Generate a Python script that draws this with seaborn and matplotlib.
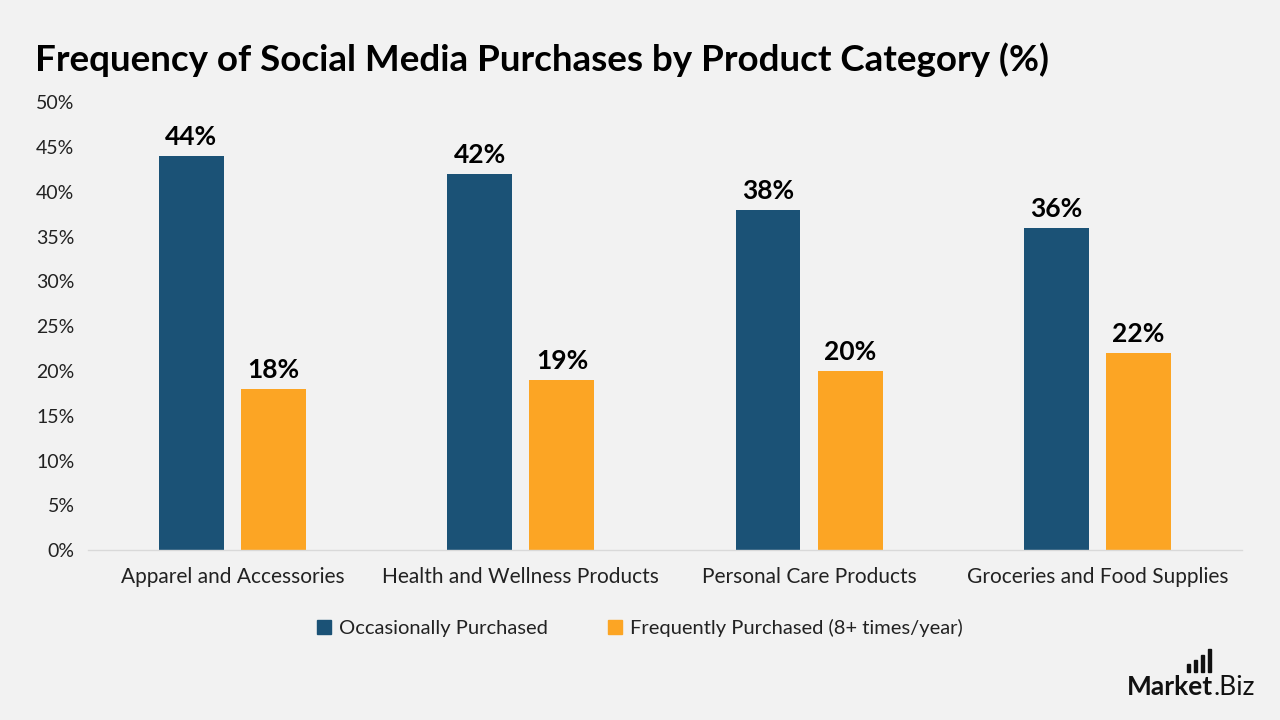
import matplotlib.pyplot as plt
import matplotlib.patches as mpatches
import seaborn as sns
import pandas as pd

categories = ['Apparel and Accessories', 'Health and Wellness Products',
              'Personal Care Products', 'Groceries and Food Supplies']
occasional = [44, 42, 38, 36]
frequent = [18, 19, 20, 22]
series_names = ['Occasionally Purchased', 'Frequently Purchased (8+ times/year)']
colors = ['#1B5276', '#FCA524']
yticks = [0, 5, 10, 15, 20, 25, 30, 35, 40, 45, 50]

df = pd.DataFrame({
    'category': categories * 2,
    'value': occasional + frequent,
    'series': [series_names[0]] * 4 + [series_names[1]] * 4,
})

sns.set_style('white')
plt.rcParams['font.family'] = ['Lato', 'DejaVu Sans']
bg = '#F2F2F2'

fig = plt.figure(figsize=(12.8, 7.2), dpi=100, facecolor=bg)
ax = fig.add_axes([0.069, 0.236, 0.901, 0.622], facecolor=bg)

sns.barplot(data=df, x='category', y='value', hue='series', palette=colors,
            width=0.57, gap=0.21, saturation=1, linewidth=0, ax=ax, legend=False)

for cont in ax.containers:
    ax.bar_label(cont, labels=[f'{v:.0f}%' for v in cont.datavalues],
                 padding=5, fontsize=19, fontweight='bold', color='black')

ax.set_xlim(-0.5, 3.5)
ax.set_ylim(0, 50)
ax.set_yticks(yticks)
ax.set_yticklabels([f'{t}%' for t in yticks])
ax.tick_params(axis='y', labelsize=14, colors='#222222', length=0, pad=10)
ax.tick_params(axis='x', labelsize=15, colors='#222222', length=0, pad=12)
ax.set_xlabel('')
ax.set_ylabel('')
for s in ['top', 'right', 'left']:
    ax.spines[s].set_visible(False)
ax.spines['bottom'].set_color('#D9D9D9')
ax.spines['bottom'].set_linewidth(1)

handles = [mpatches.Patch(color=c, label=n) for c, n in zip(colors, series_names)]
fig.legend(handles=handles, loc='center', bbox_to_anchor=(0.5, 0.128), ncol=2,
           frameon=False, fontsize=14.5, handlelength=0.7, handleheight=0.7,
           handletextpad=0.4, columnspacing=3.0, labelcolor='#222222')

fig.text(0.027, 0.917, 'Frequency of Social Media Purchases by Product Category (%)',
         fontsize=26.5, fontweight='bold', color='black', va='center', ha='left')

# logo
fig.text(0.948, 0.035, 'Market', fontsize=19, fontweight='bold', color='#111111',
         ha='right', va='baseline')
fig.text(0.948, 0.035, '.Biz', fontsize=19, color='#111111', ha='left', va='baseline')
for i, h in enumerate([0.012, 0.018, 0.024, 0.032]):
    fig.patches.append(mpatches.Rectangle((0.927 + i * 0.0055, 0.066), 0.0028, h,
                                          transform=fig.transFigure, color='#111111'))

fig.savefig('out.png', dpi=100, facecolor=bg)
